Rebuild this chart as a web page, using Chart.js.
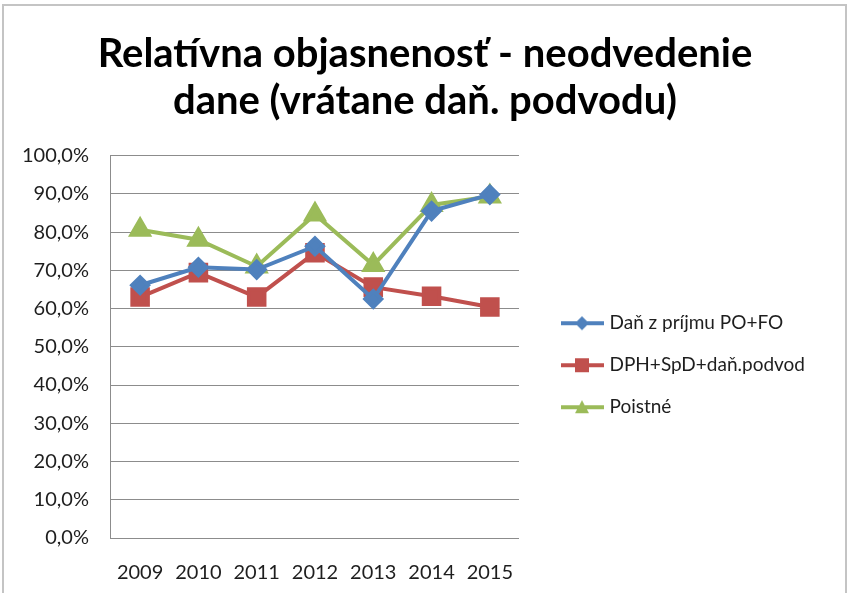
<!DOCTYPE html>
<html>
<head>
<meta charset="utf-8">
<script src="https://cdn.jsdelivr.net/npm/chart.js@4/dist/chart.umd.min.js"></script>
<style>
body { margin: 0; background: #fff; }
#wrap { position: relative; width: 850px; height: 593px; }
</style>
</head>
<body>
<div id="wrap"><canvas id="chart" width="850" height="593"></canvas></div>
<script>
var years = ["2009", "2010", "2011", "2012", "2013", "2014", "2015"];
var danZPrijmu = [66.1, 70.8, 70.2, 76.3, 62.5, 85.5, 89.8];
var dphPodvod = [63.0, 69.4, 63.0, 74.6, 65.6, 63.2, 60.4];
var poistne = [80.6, 78.0, 71.0, 84.6, 71.4, 87.1, 89.3];
var seriesNames = ["Daň z príjmu PO+FO", "DPH+SpD+daň.podvod", "Poistné"];
var titleLines = ["Relatívna objasnenosť - neodvedenie", "dane (vrátane daň. podvodu)"];

var blue = "#4f81bd";
var red = "#c0504d";
var green = "#9bbb59";
var textColor = "#1e1e1e";
var gridColor = "#8c8c8c";

// legend icon: short line with the marker in the middle
function legendIcon(color, style) {
  var c = document.createElement("canvas");
  c.width = 66;
  c.height = 20;
  var ctx = c.getContext("2d");
  ctx.strokeStyle = color;
  ctx.fillStyle = color;
  ctx.lineWidth = 4;
  ctx.beginPath();
  ctx.moveTo(23, 10);
  ctx.lineTo(66, 10);
  ctx.stroke();
  ctx.beginPath();
  if (style === "rectRot") {
    ctx.moveTo(44, 3); ctx.lineTo(51, 10); ctx.lineTo(44, 17); ctx.lineTo(37, 10);
  } else if (style === "rect") {
    ctx.rect(37, 3, 14, 14);
  } else {
    ctx.moveTo(44, 3); ctx.lineTo(51, 16); ctx.lineTo(37, 16);
  }
  ctx.closePath();
  ctx.fill();
  return c;
}

var icons = [legendIcon(blue, "rectRot"), legendIcon(red, "rect"), legendIcon(green, "triangle")];

var borderBox = {
  id: "borderBox",
  beforeDraw: function (chart) {
    var ctx = chart.ctx;
    ctx.save();
    ctx.strokeStyle = "#c4c4c4";
    ctx.lineWidth = 2;
    ctx.strokeRect(3, 5, 843, 600);
    ctx.restore();
  },
  // center the title over the whole canvas, not just the padded area
  afterLayout: function (chart) {
    if (chart.titleBlock) {
      chart.titleBlock.right = chart.width;
      chart.titleBlock.width = chart.width;
    }
  }
};

var chart = new Chart("chart", {
  type: "line",
  data: {
    labels: years,
    datasets: [
      {
        label: seriesNames[0],
        data: danZPrijmu,
        borderColor: blue,
        backgroundColor: blue,
        borderWidth: 4,
        pointStyle: "rectRot",
        pointRadius: 8,
        tension: 0
      },
      {
        label: seriesNames[1],
        data: dphPodvod,
        borderColor: red,
        backgroundColor: red,
        borderWidth: 4,
        pointStyle: "rect",
        pointRadius: 11,
        tension: 0
      },
      {
        label: seriesNames[2],
        data: poistne,
        borderColor: green,
        backgroundColor: green,
        borderWidth: 4,
        pointStyle: "triangle",
        pointRadius: 10,
        tension: 0
      }
    ]
  },
  options: {
    responsive: false,
    animation: false,
    layout: { padding: { left: 0, right: 35, bottom: -15, top: 0 } },
    plugins: {
      title: {
        display: true,
        text: titleLines,
        color: "#000",
        font: { family: "Lato", weight: "bold", size: 40, lineHeight: 1.17 },
        padding: { top: 31, bottom: 31 }
      },
      legend: {
        position: "right",
        maxWidth: 330,
        title: { display: true, text: " ", padding: { top: 54, bottom: 54 } },
        labels: {
          usePointStyle: true,
          pointStyleWidth: 58,
          color: textColor,
          font: { family: "Lato", size: 19 },
          padding: 23,
          generateLabels: function (chart) {
            return chart.data.datasets.map(function (ds, i) {
              return {
                text: ds.label,
                pointStyle: icons[i],
                fillStyle: ds.borderColor,
                strokeStyle: ds.borderColor,
                lineWidth: 0,
                hidden: false,
                datasetIndex: i,
                fontColor: textColor
              };
            });
          }
        }
      },
      tooltip: { enabled: false }
    },
    scales: {
      x: {
        offset: true,
        grid: { display: false, drawTicks: false },
        border: { color: gridColor, width: 1 },
        ticks: { color: textColor, font: { family: "Lato", size: 20 }, padding: 23 }
      },
      y: {
        min: 0,
        max: 100,
        ticks: {
          stepSize: 10,
          color: textColor,
          font: { family: "Lato", size: 20 },
          padding: 22,
          callback: function (v) { return v.toFixed(1).replace(".", ",") + "%"; }
        },
        grid: { color: gridColor, lineWidth: 1, drawTicks: false },
        border: { color: gridColor, width: 1 }
      }
    }
  },
  plugins: [borderBox]
});
</script>
</body>
</html>
